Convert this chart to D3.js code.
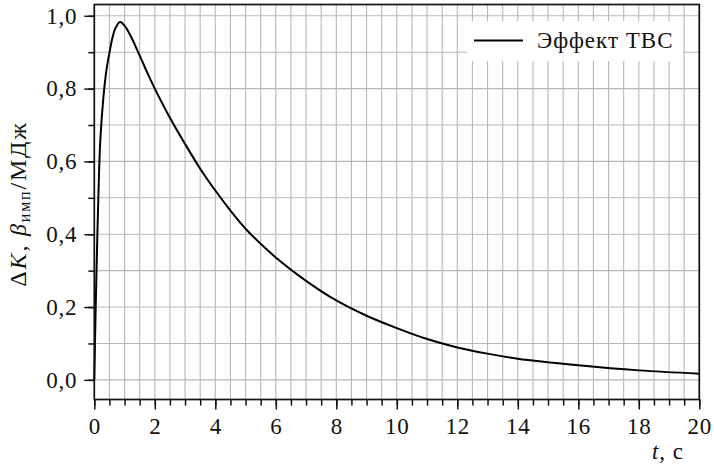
<!DOCTYPE html>
<html>
<head>
<meta charset="utf-8">
<script src="https://cdn.jsdelivr.net/npm/d3@7"></script>
</head>
<body style="margin:0;background:#fff">
<svg id="chart" width="714" height="465" style="display:block"></svg>
<script>
// Time after the pulse, s
const timeS = [0, 0.05, 0.1, 0.15, 0.2, 0.3, 0.4, 0.5, 0.6, 0.7, 0.85, 1.0, 1.2, 1.45, 1.8,
               2, 2.5, 3, 3.5, 4, 4.5, 5, 6, 7, 8, 9, 10, 11, 12, 13, 14, 16, 18, 20];
// Reactivity effect of the fuel assembly, per MJ of pulse energy
const effectTVS = [0, 0.215, 0.394, 0.55, 0.66, 0.775, 0.85, 0.898, 0.94, 0.966, 0.983, 0.973, 0.945, 0.90, 0.835,
                   0.80, 0.72, 0.648, 0.580, 0.520, 0.465, 0.415, 0.336, 0.272, 0.218, 0.176, 0.142, 0.112, 0.089, 0.072, 0.058, 0.040, 0.026, 0.017];

const seriesName = "Эффект ТВС";
const xMajorTicks = [0, 2, 4, 6, 8, 10, 12, 14, 16, 18, 20];
const yMajorTicks = [0, 0.2, 0.4, 0.6, 0.8, 1.0];
const xDomain = [0, 20];
const yDomain = [-0.054, 1.031];

const FONT = "Liberation Serif";
const svg = d3.select("#chart");
const plotL = 94.3, plotR = 699.3, plotT = 4.5, plotB = 399.5;

const x = d3.scaleLinear().domain(xDomain).range([plotL, plotR]);
const y = d3.scaleLinear().domain(yDomain).range([plotB, plotT]);

const xMinor = d3.range(0, 20.001, 0.5);
const yMinor = d3.range(0, 1.0001, 0.1).map(v => +v.toFixed(1));

const fmt = d3.formatLocale({decimal: ",", thousands: " ", grouping: [3], currency: ["", ""]}).format(".1f");

// grid
const grid = svg.append("g").attr("stroke", "#b8b8b8").attr("stroke-width", 1.1);
grid.selectAll("line.vx").data(xMinor).join("line")
  .attr("x1", d => x(d)).attr("x2", d => x(d)).attr("y1", plotT).attr("y2", plotB);
grid.selectAll("line.hy").data(yMinor).join("line")
  .attr("y1", d => y(d)).attr("y2", d => y(d)).attr("x1", plotL).attr("x2", plotR);

// curve
const line = d3.line().x((d, i) => x(timeS[i])).y(d => y(d)).curve(d3.curveCatmullRom.alpha(0.5));
svg.append("path").datum(effectTVS)
  .attr("d", line).attr("fill", "none").attr("stroke", "#000").attr("stroke-width", 2)
  .attr("stroke-linejoin", "round");

// axes
const styleAxis = g => {
  g.select(".domain").remove();
  g.selectAll(".tick line").attr("stroke", "#111").attr("stroke-width", 1.5);
  g.selectAll(".tick text").attr("fill", "#111")
    .attr("font-family", FONT).attr("font-size", 23).attr("letter-spacing", 0.8);
};
// minor ticks
svg.append("g").attr("transform", `translate(0,${plotB})`)
  .call(d3.axisBottom(x).tickValues(xMinor).tickSize(6).tickFormat(""))
  .call(styleAxis);
svg.append("g").attr("transform", `translate(${plotL},0)`)
  .call(d3.axisLeft(y).tickValues(yMinor).tickSize(6).tickFormat(""))
  .call(styleAxis);
// major ticks with labels
svg.append("g").attr("transform", `translate(0,${plotB})`)
  .call(d3.axisBottom(x).tickValues(xMajorTicks).tickSize(10).tickPadding(8).tickFormat(d3.format("d")))
  .call(styleAxis);
svg.append("g").attr("transform", `translate(${plotL},0)`)
  .call(d3.axisLeft(y).tickValues(yMajorTicks).tickSize(10).tickPadding(7).tickFormat(fmt))
  .call(styleAxis);

// frame
svg.append("rect").attr("x", plotL).attr("y", plotT).attr("width", plotR - plotL).attr("height", plotB - plotT)
  .attr("fill", "none").attr("stroke", "#111").attr("stroke-width", 1.7);

// legend
const lg = svg.append("g");
lg.append("rect").attr("x", 467).attr("y", 21).attr("width", 216).attr("height", 40).attr("fill", "#fff");
lg.append("line").attr("x1", 474).attr("x2", 523).attr("y1", 40.5).attr("y2", 40.5)
  .attr("stroke", "#000").attr("stroke-width", 2);
lg.append("text").attr("x", 537).attr("y", 48).attr("font-family", FONT).attr("font-size", 23)
  .attr("letter-spacing", 1).attr("fill", "#111").text(seriesName);

// axis titles
const xt = svg.append("text").attr("x", 684).attr("y", 459).attr("text-anchor", "end")
  .attr("font-family", FONT).attr("font-size", 23).attr("letter-spacing", 1).attr("fill", "#111");
xt.append("tspan").attr("font-style", "italic").text("t");
xt.append("tspan").text(", с");

const yt = svg.append("text").attr("transform", "translate(26,204) rotate(-90)")
  .attr("text-anchor", "middle").attr("font-family", FONT).attr("font-size", 24).attr("fill", "#111")
  .attr("letter-spacing", 1.8);
yt.append("tspan").text("Δ");
yt.append("tspan").attr("font-style", "italic").text("K");
yt.append("tspan").text(", ");
yt.append("tspan").attr("font-style", "italic").text("β");
yt.append("tspan").attr("font-size", 16).attr("dy", 4).text("имп");
yt.append("tspan").attr("dy", -4).text("/МДж");
</script>
</body>
</html>
